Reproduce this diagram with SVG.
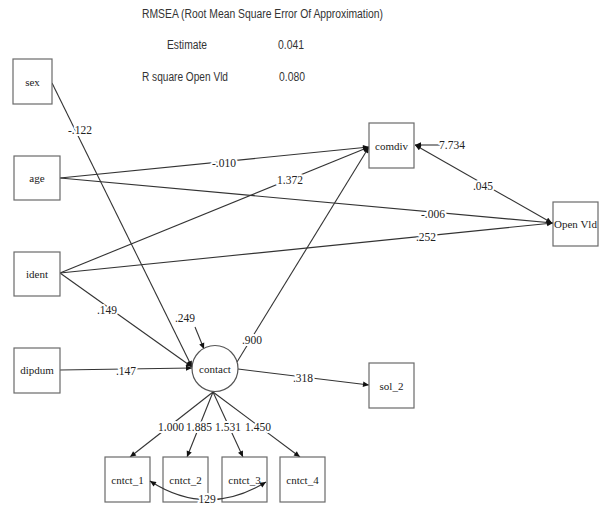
<svg xmlns="http://www.w3.org/2000/svg" width="601" height="506" viewBox="0 0 601 506">
<style>
.box{fill:#fff;stroke:#6a6a6a;stroke-width:1.2}
.nl{font-size:11px;fill:#222;text-anchor:middle;dominant-baseline:central}
.el{font-size:11.5px;fill:#222;text-anchor:middle;dominant-baseline:central;stroke:#fff;stroke-width:4;paint-order:stroke;stroke-linejoin:round}
.hd{font-size:12px;fill:#333}
.c{fill:none;stroke:#333;stroke-width:1.1}
.a{marker-end:url(#arr)}
.b{marker-start:url(#arr);marker-end:url(#arr)}
</style>
<defs>
<marker id="arr" viewBox="0 0 10 10" refX="10" refY="5" markerWidth="7" markerHeight="6" markerUnits="userSpaceOnUse" orient="auto-start-reverse">
<path d="M0,0.5 L10,5 L0,9.5 z" fill="#111"/>
</marker>
</defs>
<rect width="601" height="506" fill="#fff"/>
<g id="header" font-family="Liberation Sans, Open Sans, sans-serif">
<text class="hd" x="142" y="18" textLength="241" lengthAdjust="spacingAndGlyphs">RMSEA (Root Mean Square Error Of Approximation)</text>
<text class="hd" x="167" y="49" textLength="40" lengthAdjust="spacingAndGlyphs">Estimate</text>
<text class="hd" x="278" y="49" textLength="26" lengthAdjust="spacingAndGlyphs">0.041</text>
<text class="hd" x="142" y="81" textLength="86" lengthAdjust="spacingAndGlyphs">R square Open Vld</text>
<text class="hd" x="279" y="81" textLength="26" lengthAdjust="spacingAndGlyphs">0.080</text>
</g>
<g id="connectors">
<path class="c a" d="M52,83 L192,367"/>
<path class="c a" d="M60,273 L192,367"/>
<path class="c a" d="M60,370 L192,368"/>
<path class="c a" d="M195,327 L204,349"/>
<path class="c a" d="M60,178 L369,147"/>
<path class="c a" d="M60,273 L369,147"/>
<path class="c a" d="M237,362 L369,147"/>
<path class="c a" d="M60,178 L553,223"/>
<path class="c a" d="M60,273 L553,223"/>
<path class="c b" d="M415,145 L552,223"/>
<path class="c a" d="M440,145 L415,145"/>
<path class="c a" d="M238,369 L369,385"/>
<path class="c a" d="M213,392 L130,457"/>
<path class="c a" d="M213,392 L187,457"/>
<path class="c a" d="M213,392 L243,457"/>
<path class="c a" d="M213,392 L300,457"/>
</g>
<g id="edge-labels" font-family="Liberation Serif, DejaVu Serif, Times New Roman, serif">
<text class="el" x="80" y="130">-.122</text>
<text class="el" x="224" y="163">-.010</text>
<text class="el" x="290" y="180">1.372</text>
<text class="el" x="433" y="214">-.006</text>
<text class="el" x="426" y="237">.252</text>
<text class="el" x="107" y="310">.149</text>
<text class="el" x="126" y="371">.147</text>
<text class="el" x="185" y="318">.249</text>
<text class="el" x="252" y="340">.900</text>
<text class="el" x="303" y="378">.318</text>
<text class="el" x="483" y="186">.045</text>
<text class="el" x="452" y="145">7.734</text>
<text class="el" x="171" y="427">1.000</text>
<text class="el" x="199" y="427">1.885</text>
<text class="el" x="228" y="427">1.531</text>
<text class="el" x="258" y="427">1.450</text>
</g>
<g id="nodes" font-family="Liberation Serif, DejaVu Serif, Times New Roman, serif">
<g id="sex"><rect class="box" x="13" y="59" width="39" height="45"/><text class="nl" x="32.5" y="81.5">sex</text></g>
<g id="age"><rect class="box" x="14" y="156" width="46" height="44"/><text class="nl" x="37" y="178">age</text></g>
<g id="ident"><rect class="box" x="14" y="252" width="46" height="44"/><text class="nl" x="37" y="274">ident</text></g>
<g id="dipdum"><rect class="box" x="14" y="348" width="46" height="45"/><text class="nl" x="37" y="370">dipdum</text></g>
<g id="contact"><circle cx="215" cy="368.5" r="23" fill="#fff" stroke="#555" stroke-width="1.2"/><text class="nl" x="215" y="369">contact</text></g>
<g id="comdiv"><rect class="box" x="369" y="123" width="45" height="45"/><text class="nl" x="391.5" y="145.5">comdiv</text></g>
<g id="open-vld"><rect class="box" x="553" y="202" width="45" height="44"/><text class="nl" x="575.5" y="224">Open Vld</text></g>
<g id="sol_2"><rect class="box" x="369" y="363" width="45" height="45"/><text class="nl" x="391.5" y="385.5">sol_2</text></g>
<g id="cntct_1"><rect class="box" x="105" y="457" width="45" height="45"/><text class="nl" x="127.5" y="479.5">cntct_1</text></g>
<g id="cntct_2"><rect class="box" x="163" y="457" width="45" height="45"/><text class="nl" x="185.5" y="479.5">cntct_2</text></g>
<g id="cntct_3"><rect class="box" x="222" y="457" width="45" height="45"/><text class="nl" x="244.5" y="479.5">cntct_3</text></g>
<g id="cntct_4"><rect class="box" x="280" y="457" width="45" height="45"/><text class="nl" x="302.5" y="479.5">cntct_4</text></g>
</g>
<g id="covariance" font-family="Liberation Serif, DejaVu Serif, Times New Roman, serif">
<path class="c b" d="M150,481 Q207,518 266,482"/>
<text class="el" x="207" y="499">129</text>
</g>
</svg>
